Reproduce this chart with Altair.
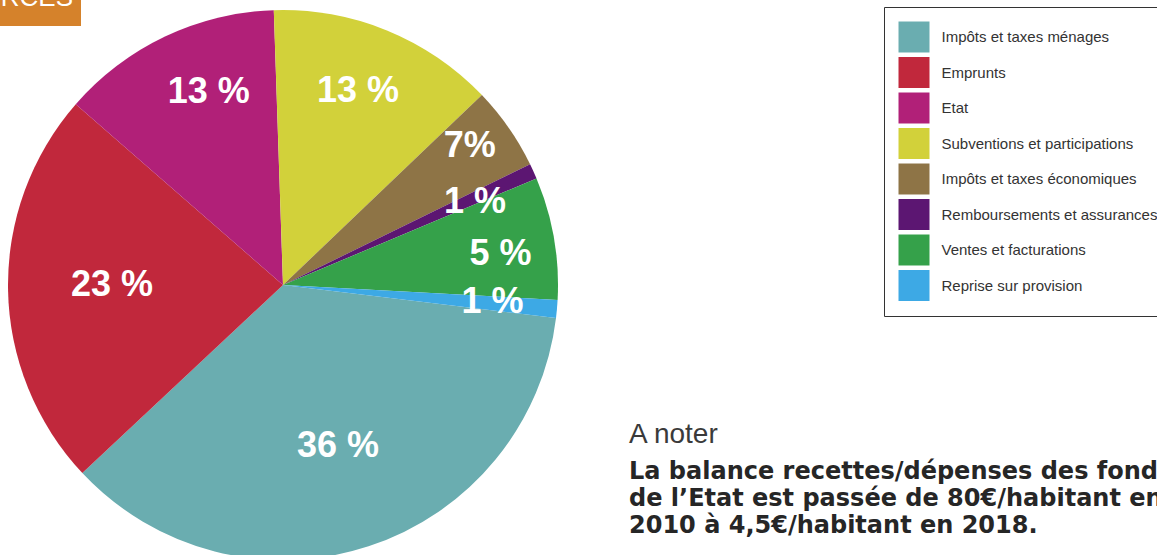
import math
import altair as alt
import pandas as pd

# ---- data ----
categories = [
    "Impôts et taxes ménages",
    "Emprunts",
    "Etat",
    "Subventions et participations",
    "Impôts et taxes économiques",
    "Remboursements et assurances",
    "Ventes et facturations",
    "Reprise sur provision",
]
shares = [36.1, 23.4, 13.05, 13.4, 4.9, 0.9, 7.2, 1.05]   # slice sizes as drawn
labels = ["36 %", "23 %", "13 %", "13 %", "7%", "1 %", "5 %", "1 %"]  # printed labels
colors = ["#6AADB0", "#C1283C", "#B12078", "#D2D13A",
          "#8E7446", "#5C1672", "#35A14A", "#3DA9E5"]

note_title = "A noter"
note_lines = [
    "La balance recettes/dépenses des fonds",
    "de l’Etat est passée de 80€/habitant en",
    "2010 à 4,5€/habitant en 2018.",
]
header = "RESSOURCES"

# ---- styling / placement constants ----
CX, CY, R = 283, 285, 275
START_DEG = 96.9
# per-label radius (px) and angular nudge (deg)
PLACE = {
    "Impôts et taxes ménages": (168, -1.0),
    "Emprunts": (171, 1.7),
    "Etat": (209, 4.6),
    "Subventions et participations": (210, -1.3),
    "Impôts et taxes économiques": (234, -2.2),
    "Remboursements et assurances": (210, 0.5),
    "Ventes et facturations": (220, 1.2),
    "Reprise sur provision": (210, -0.9),
}

df = pd.DataFrame({"cat": categories, "share": shares, "label": labels,
                   "order": list(range(len(categories)))})

a0 = math.radians(START_DEG)
theta_scale = alt.Scale(domain=[0, 100], range=[a0, a0 + 2 * math.pi])

base = (
    alt.Chart(df)
    .transform_joinaggregate(total="sum(share)")
    .transform_calculate(pct="datum.share / datum.total * 100")
    .transform_window(cum="sum(pct)", sort=[alt.SortField("order")])
    .transform_calculate(start="datum.cum - datum.pct", end="datum.cum",
                         mid="datum.cum - datum.pct / 2")
)

arcs = base.mark_arc(outerRadius=R, innerRadius=0).encode(
    theta=alt.Theta("start:Q", scale=theta_scale),
    theta2=alt.Theta2("end:Q"),
    color=alt.Color(
        "cat:N",
        sort=categories,
        scale=alt.Scale(domain=categories, range=colors),
        legend=alt.Legend(
            title=None,
            orient="none",
            legendX=884,
            legendY=7,
            direction="vertical",
            symbolType="square",
            symbolSize=961,
            symbolStrokeWidth=0,
            symbolOpacity=1,
            rowPadding=4.5,
            labelFont="Liberation Sans",
            labelFontSize=15,
            labelColor="#333333",
            labelOffset=12,
            labelLimit=400,
            padding=14.5,
            strokeColor="#333333",
            fillColor="white",
        ),
    ),
    x=alt.value(CX),
    y=alt.value(CY),
)

text_layers = []
for cat in categories:
    r, dt = PLACE[cat]
    t = (
        base.transform_filter(alt.FieldEqualPredicate(field="cat", equal=cat))
        .transform_calculate(lt=f"datum.mid + {dt / 3.6}")
        .mark_text(font="Liberation Sans", fontSize=36, fontWeight="bold",
                   color="white", align="center", baseline="middle", radius=r, dy=2)
        .encode(
            theta=alt.Theta("lt:Q", scale=theta_scale, stack=False),
            text="label:N",
            x=alt.value(CX),
            y=alt.value(CY),
        )
    )
    text_layers.append(t)

one = alt.Data(values=[{"k": 1}])

header_rect = alt.Chart(one).mark_rect(color="#D5822B").encode(
    x=alt.value(0), x2=alt.value(81), y=alt.value(0), y2=alt.value(26)
)
header_text = alt.Chart(one).mark_text(
    text=header, font="Liberation Sans", fontSize=26, color="white",
    align="right", baseline="alphabetic"
).encode(x=alt.value(73), y=alt.value(6))

note_t = alt.Chart(one).mark_text(
    text=note_title, font="Liberation Sans", fontSize=28, color="#3a3a3a",
    align="left", baseline="alphabetic"
).encode(x=alt.value(629), y=alt.value(443))

note_b = alt.Chart(one).mark_text(
    text=note_lines, font="DejaVu Sans", fontWeight="bold", fontSize=24,
    lineHeight=27, color="#262626", align="left", baseline="alphabetic"
).encode(x=alt.value(629), y=alt.value(479))

chart = (
    alt.layer(arcs, *text_layers, header_rect, header_text, note_t, note_b)
    .properties(width=1157, height=555, autosize=alt.AutoSizeParams(type="none"),
                padding=0, background="white")
    .configure_view(stroke="transparent")
)

chart.save("out.html", embed_options={"renderer": "svg", "actions": False})
